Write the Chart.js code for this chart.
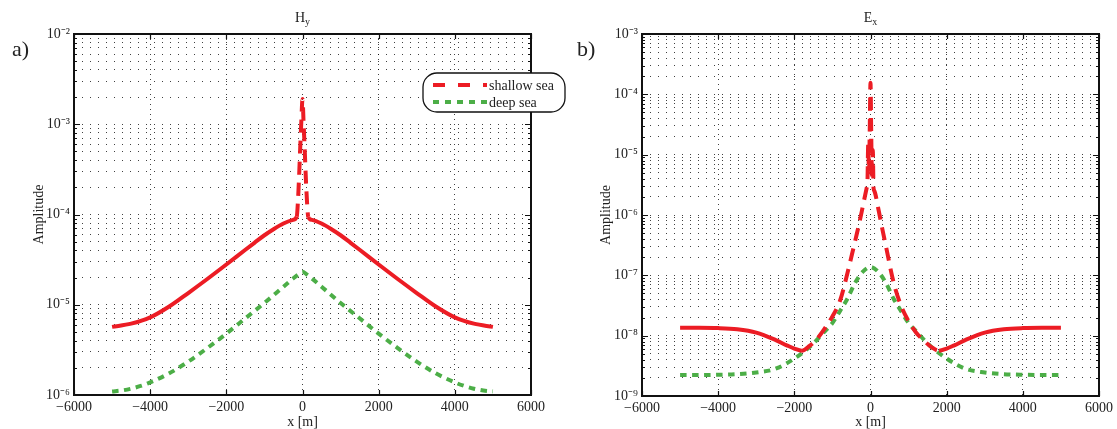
<!DOCTYPE html>
<html>
<head>
<meta charset="utf-8">
<script src="https://cdn.jsdelivr.net/npm/chart.js@4.4.1/dist/chart.umd.min.js"></script>
<style>
html, body { margin: 0; padding: 0; background: #fff; }
#wrap { position: relative; width: 1117px; height: 429px; }
canvas { position: absolute; top: 0; }
#hy { left: 0; }
#ex { left: 570px; }
</style>
</head>
<body>
<div id="wrap">
  <canvas id="hy" width="570" height="429"></canvas>
  <canvas id="ex" width="547" height="429"></canvas>
</div>
<script>
// Hy panel
const hyShallowX = [-5000, -4500, -4000, -3500, -3000, -2500, -2000, -1500, -1250, -1000, -750, -500, -250, -150, -120, -90, -60, -30, 0, 30, 60, 90, 120, 150, 250, 500, 750, 1000, 1250, 1500, 2000, 2500, 3000, 3500, 4000, 4500, 5000];
const hyShallow = [5.69e-6, 6.17e-6, 7.24e-6, 9.55e-6, 1.349e-5, 1.928e-5, 2.79e-5, 4.07e-5, 4.9e-5, 5.89e-5, 6.92e-5, 7.94e-5, 8.71e-5, 9.5e-5, 1.4e-4, 2.6e-4, 5.5e-4, 1.1e-3, 1.9e-3, 1.0e-3, 5.0e-4, 2.4e-4, 1.35e-4, 9.4e-5, 8.71e-5, 7.94e-5, 6.92e-5, 5.89e-5, 4.9e-5, 4.07e-5, 2.79e-5, 1.928e-5, 1.349e-5, 9.55e-6, 7.24e-6, 6.17e-6, 5.69e-6];
const hyDeepX = [-5000, -4750, -4500, -4250, -4000, -3500, -3000, -2500, -2000, -1500, -1000, -500, -250, -100, 0, 100, 250, 500, 1000, 1500, 2000, 2500, 3000, 3500, 4000, 4250, 4500, 4750, 5000];
const hyDeep = [1.096e-6, 1.122e-6, 1.175e-6, 1.259e-6, 1.38e-6, 1.738e-6, 2.344e-6, 3.311e-6, 4.786e-6, 7.079e-6, 1.047e-5, 1.585e-5, 1.95e-5, 2.188e-5, 2.317e-5, 2.188e-5, 1.95e-5, 1.585e-5, 1.047e-5, 7.079e-6, 4.786e-6, 3.311e-6, 2.344e-6, 1.738e-6, 1.38e-6, 1.259e-6, 1.175e-6, 1.122e-6, 1.096e-6];

// Ex panel
const exShallowX = [-5000, -4500, -4000, -3500, -3000, -2500, -2200, -2000, -1800, -1600, -1400, -1200, -1000, -800, -600, -400, -300, -200, -100, -80, -60, -40, -20, 0, 20, 40, 60, 80, 100, 200, 300, 400, 600, 800, 1000, 1200, 1400, 1600, 1800, 2000, 2200, 2500, 3000, 3500, 4000, 4500, 5000];
const exShallow = [1.349e-8, 1.349e-8, 1.334e-8, 1.274e-8, 1.122e-8, 8.51e-9, 6.92e-9, 6.1e-9, 5.62e-9, 6.76e-9, 8.91e-9, 1.318e-8, 2.089e-8, 3.8e-8, 1.122e-7, 3.8e-7, 7.08e-7, 1.413e-6, 2.82e-6, 3.5e-6, 1.5e-5, 5e-6, 2.5e-5, 1.55e-4, 2e-5, 4e-6, 1.2e-5, 2.8e-6, 2.51e-6, 1.318e-6, 6.31e-7, 3.16e-7, 7.94e-8, 3.16e-8, 1.738e-8, 1.122e-8, 8.32e-9, 6.46e-9, 5.62e-9, 6.1e-9, 6.92e-9, 8.51e-9, 1.122e-8, 1.274e-8, 1.334e-8, 1.349e-8, 1.349e-8];
const exDeepX = [-5000, -4500, -4000, -3500, -3000, -2500, -2000, -1500, -1250, -1000, -800, -600, -400, -200, 0, 200, 400, 600, 800, 1000, 1250, 1500, 2000, 2500, 3000, 3500, 4000, 4500, 5000];
const exDeep = [2.228e-9, 2.228e-9, 2.249e-9, 2.301e-9, 2.455e-9, 2.818e-9, 4.169e-9, 7.413e-9, 1.096e-8, 1.622e-8, 2.57e-8, 4.169e-8, 7.586e-8, 1.148e-7, 1.371e-7, 1.148e-7, 7.586e-8, 4.169e-8, 2.57e-8, 1.622e-8, 1.096e-8, 7.413e-9, 4.169e-9, 2.818e-9, 2.455e-9, 2.301e-9, 2.249e-9, 2.228e-9, 2.228e-9];

const xTicks = [-6000, -4000, -2000, 0, 2000, 4000, 6000];
const seriesNames = ['shallow sea', 'deep sea'];

const RED = '#ec1c24';
const GREEN = '#4cae47';
const FONT = "'Liberation Serif', 'Times New Roman', serif";
const TEXT = '#222';

const SUP = { '-': '\u207B', '0': '\u2070', '1': '\u00B9', '2': '\u00B2', '3': '\u00B3', '4': '\u2074', '5': '\u2075', '6': '\u2076', '7': '\u2077', '8': '\u2078', '9': '\u2079' };

function isDecade(v) {
    const l = Math.log10(v);
    return Math.abs(l - Math.round(l)) < 1e-6;
}

// all 1..9 x 10^n ticks so every minor gridline gets drawn
function logTicks(minExp, maxExp) {
    const t = [];
    for (let e = minExp; e < maxExp; e++) {
        for (let m = 1; m < 10; m++) t.push({ value: m * Math.pow(10, e) });
    }
    t.push({ value: Math.pow(10, maxExp) });
    return t;
}

function pts(xs, ys) {
    return xs.map((x, i) => ({ x: x, y: ys[i] }));
}

// frame, inward ticks, title, panel label, legend
const decorPlugin = {
    id: 'decor',
    afterDraw(chart, args, opts) {
        const { ctx, chartArea: a, scales: { x, y } } = chart;
        ctx.save();
        ctx.strokeStyle = '#111';
        ctx.lineWidth = 1.2;
        ctx.beginPath();
        x.ticks.forEach(t => {
            const px = Math.round(x.getPixelForValue(t.value)) + 0.5;
            ctx.moveTo(px, a.bottom); ctx.lineTo(px, a.bottom - 5);
            ctx.moveTo(px, a.top); ctx.lineTo(px, a.top + 5);
        });
        y.ticks.forEach(t => {
            const py = Math.round(y.getPixelForValue(t.value)) + 0.5;
            const len = isDecade(t.value) ? 6 : 3;
            ctx.moveTo(a.left, py); ctx.lineTo(a.left + len, py);
            ctx.moveTo(a.right, py); ctx.lineTo(a.right - len, py);
        });
        ctx.stroke();
        ctx.lineWidth = 2;
        ctx.strokeRect(a.left, a.top, a.right - a.left, a.bottom - a.top);

        // title with subscript
        ctx.fillStyle = TEXT;
        ctx.textBaseline = 'alphabetic';
        ctx.font = '14px ' + FONT;
        const w1 = ctx.measureText(opts.title).width;
        ctx.font = '10px ' + FONT;
        const w2 = ctx.measureText(opts.sub).width;
        const cx = (a.left + a.right) / 2 - (w1 + w2) / 2;
        ctx.font = '14px ' + FONT;
        ctx.textAlign = 'left';
        ctx.fillText(opts.title, cx, 22);
        ctx.font = '10px ' + FONT;
        ctx.fillText(opts.sub, cx + w1, 25);

        // panel label
        ctx.font = '22px ' + FONT;
        ctx.fillText(opts.panel, opts.panelX, 56);

        if (opts.legend) {
            const lx = 423, ly = 73, lw = 142, lh = 39, r = 14;
            ctx.beginPath();
            ctx.roundRect(lx, ly, lw, lh, r);
            ctx.fillStyle = '#fff';
            ctx.fill();
            ctx.lineWidth = 1.3;
            ctx.strokeStyle = '#111';
            ctx.stroke();
            const rows = [ly + 12, ly + 29];
            chart.data.datasets.forEach((ds, i) => {
                ctx.beginPath();
                ctx.lineWidth = 4;
                ctx.strokeStyle = ds.borderColor;
                ctx.setLineDash(ds.legendDash);
                ctx.moveTo(433, rows[i]);
                ctx.lineTo(487, rows[i]);
                ctx.stroke();
                ctx.setLineDash([]);
                ctx.fillStyle = TEXT;
                ctx.font = '14px ' + FONT;
                ctx.textBaseline = 'middle';
                ctx.fillText(ds.label, 489, rows[i] + 1);
            });
        }
        ctx.restore();
    }
};

function makeChart(id, cfg) {
    const datasets = [
        {
            label: seriesNames[0],
            data: pts(cfg.shallowX, cfg.shallow),
            borderColor: RED,
            borderWidth: 4,
            pointRadius: 0,
            cubicInterpolationMode: 'monotone',
            legendDash: [12, 13],
            segment: {
                borderDash: c => (Math.abs(c.p0.parsed.x) <= cfg.dashLim && Math.abs(c.p1.parsed.x) <= cfg.dashLim) ? [13, 8] : undefined
            }
        },
        {
            label: seriesNames[1],
            data: pts(cfg.deepX, cfg.deep),
            borderColor: GREEN,
            borderWidth: 4,
            borderDash: [6.5, 5.5],
            pointRadius: 0,
            cubicInterpolationMode: 'monotone',
            legendDash: [6, 6]
        }
    ];
    return new Chart(document.getElementById(id), {
        type: 'line',
        data: { datasets: datasets },
        options: {
            responsive: false,
            animation: false,
            devicePixelRatio: 1,
            layout: { padding: { left: 0, top: 34, right: cfg.padRight, bottom: 0 } },
            plugins: {
                legend: { display: false },
                tooltip: { enabled: false },
                decor: { title: cfg.title, sub: cfg.sub, panel: cfg.panel, panelX: cfg.panelX, legend: cfg.legend }
            },
            scales: {
                x: {
                    type: 'linear',
                    min: -6000,
                    max: 6000,
                    afterBuildTicks: s => { s.ticks = xTicks.map(v => ({ value: v })); },
                    afterFit: s => { s.height = cfg.xHeight; },
                    grid: { color: 'rgba(0,0,0,0.75)', lineWidth: 1, drawTicks: false },
                    border: { display: false, dash: [1, 4] },
                    ticks: {
                        color: TEXT,
                        font: { family: FONT, size: 14 },
                        padding: 4,
                        maxRotation: 0,
                        autoSkip: false,
                        callback: v => v < 0 ? '\u2212' + Math.abs(v) : String(v)
                    },
                    title: {
                        display: true,
                        text: 'x [m]',
                        color: TEXT,
                        font: { family: FONT, size: 14, lineHeight: 1 },
                        padding: { top: 0, bottom: 0 }
                    }
                },
                y: {
                    type: 'logarithmic',
                    min: Math.pow(10, cfg.minExp),
                    max: Math.pow(10, cfg.maxExp),
                    afterBuildTicks: s => { s.ticks = logTicks(cfg.minExp, cfg.maxExp); },
                    afterFit: s => { s.width = cfg.yWidth; },
                    grid: { color: 'rgba(0,0,0,0.75)', lineWidth: 1, drawTicks: false },
                    border: { display: false, dash: [1, 7] },
                    ticks: {
                        color: TEXT,
                        font: { family: FONT, size: 14 },
                        padding: 4,
                        autoSkip: false,
                        callback: v => {
                            if (!isDecade(v)) return '';
                            const e = String(Math.round(Math.log10(v)));
                            return '10' + e.split('').map(ch => SUP[ch]).join('');
                        }
                    },
                    title: {
                        display: true,
                        text: 'Amplitude',
                        color: TEXT,
                        font: { family: FONT, size: 14, lineHeight: 1 },
                        padding: { top: cfg.titlePad, bottom: 0 }
                    }
                }
            }
        },
        plugins: [decorPlugin]
    });
}

makeChart('hy', {
    shallowX: hyShallowX, shallow: hyShallow, deepX: hyDeepX, deep: hyDeep,
    dashLim: 150, minExp: -6, maxExp: -2,
    padRight: 39, xHeight: 34, yWidth: 74, titlePad: 32,
    title: 'H', sub: 'y', panel: 'a)', panelX: 12, legend: true
});

makeChart('ex', {
    shallowX: exShallowX, shallow: exShallow, deepX: exDeepX, deep: exDeep,
    dashLim: 1800, minExp: -9, maxExp: -3,
    padRight: 18, xHeight: 33, yWidth: 72, titlePad: 29,
    title: 'E', sub: 'x', panel: 'b)', panelX: 7, legend: false
});
</script>
</body>
</html>
